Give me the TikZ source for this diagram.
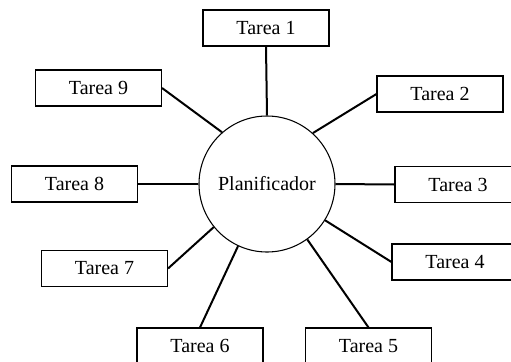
\documentclass[tikz,border=0pt]{standalone}
\usepackage{fontspec}
\setmainfont{Liberation Serif}
\begin{document}
\begin{tikzpicture}[x=0.75pt,y=-0.75pt,
  taskbox/.style={draw,line width=0.8pt,minimum width=94.5pt,minimum height=27pt,inner sep=0pt,font=\fontsize{15}{18}\selectfont},
  hub/.style={draw,circle,line width=0.8pt,minimum size=102pt,inner sep=0pt,font=\fontsize{15}{18}\selectfont},
  link/.style={line width=1.5pt}]
\clip (0,0) rectangle (511,361);
\fill[white] (0,0) rectangle (511,361);
\node[hub] (P) at (267,184) {Planificador};
\node[taskbox] (t1) at (266,28) {Tarea 1};
\node[taskbox] (t2) at (440,94) {Tarea 2};
\node[taskbox] (t3) at (458,184.5) {Tarea 3};
\node[taskbox] (t4) at (455,262) {Tarea 4};
\node[taskbox] (t5) at (368.5,346) {Tarea 5};
\node[taskbox] (t6) at (200,346) {Tarea 6};
\node[taskbox] (t7) at (104.5,268.5) {Tarea 7};
\node[taskbox] (t8) at (74.5,184) {Tarea 8};
\node[taskbox] (t9) at (98.5,88) {Tarea 9};
\draw[link] (t1.south) -- (P.90);
\draw[link] (t2.west) -- (P.48);
\draw[link] (t3.west) -- (P.0);
\draw[link] (t4.west) -- (P.-32);
\draw[link] (t5.north) -- (P.-54);
\draw[link] (t6.north) -- (P.-115.5);
\draw[link] (t7.east) -- (P.-141);
\draw[link] (t8.east) -- (P.180);
\draw[link] (t9.east) -- (P.131.5);
\end{tikzpicture}
\end{document}
